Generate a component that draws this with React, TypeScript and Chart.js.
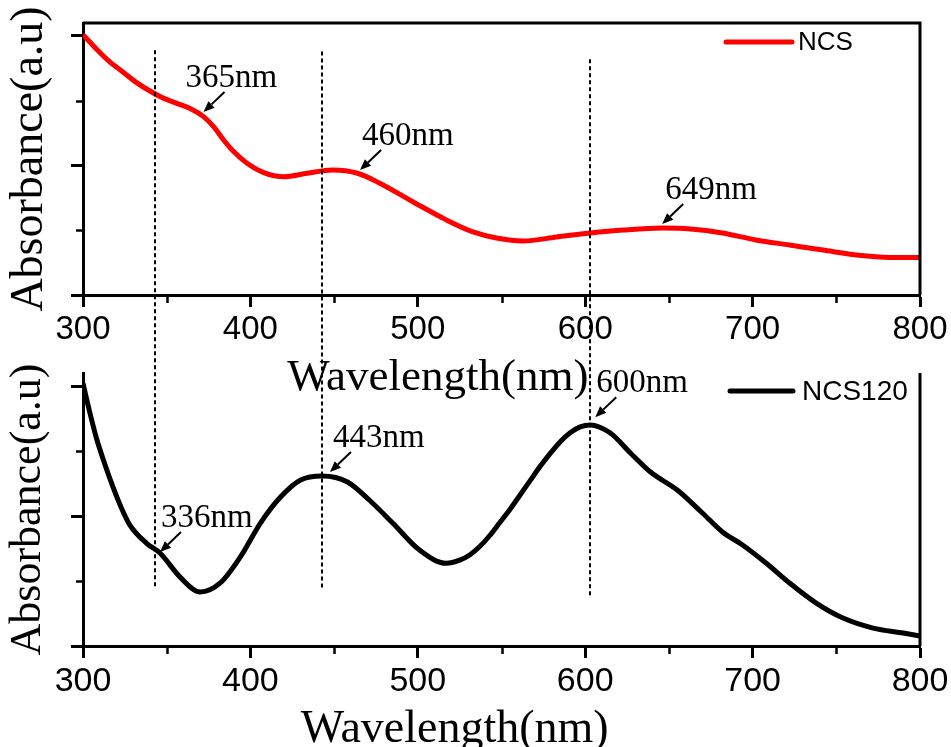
import { useEffect, useRef } from "react";
import { Chart, registerables } from "chart.js";

Chart.register(...registerables);

// UV-vis absorption spectrum of NCS
const ncsWavelength = [300, 308, 316, 324, 332, 340, 348, 356, 364, 372, 378, 384, 390, 398, 408, 420, 434, 449, 464, 477, 497, 517, 533, 547, 563, 583, 603, 623, 646, 663, 682, 702, 722, 742, 762, 782, 800];
const ncsAbsorbance = [2.01, 1.9, 1.8, 1.72, 1.64, 1.575, 1.52, 1.48, 1.44, 1.377, 1.3, 1.197, 1.107, 1.017, 0.945, 0.913, 0.94, 0.965, 0.94, 0.865, 0.72, 0.58, 0.487, 0.44, 0.417, 0.448, 0.479, 0.502, 0.517, 0.51, 0.479, 0.425, 0.386, 0.347, 0.309, 0.29, 0.29];

// UV-vis absorption spectrum of NCS120
const ncs120Wavelength = [300, 304, 308, 313, 318, 323, 328, 338, 346, 358, 370, 382, 394, 406, 418, 430, 443, 458, 471, 485, 501, 517, 525, 531, 537, 543, 549, 555, 561, 567, 573, 579, 585, 591, 597, 603, 615, 627, 639, 655, 670, 682, 694, 708, 722, 738, 754, 772, 790, 800];
const ncs120Absorbance = [2.02, 1.8, 1.6, 1.4, 1.22, 1.06, 0.93, 0.79, 0.715, 0.53, 0.415, 0.485, 0.685, 0.946, 1.146, 1.277, 1.308, 1.262, 1.123, 0.946, 0.738, 0.636, 0.66, 0.7, 0.765, 0.85, 0.95, 1.05, 1.16, 1.27, 1.38, 1.48, 1.57, 1.64, 1.685, 1.7, 1.638, 1.485, 1.338, 1.2, 1.023, 0.877, 0.777, 0.638, 0.485, 0.33, 0.215, 0.138, 0.1, 0.077];

// axis ticks
const xMajorTicks = [300, 400, 500, 600, 700, 800];
const xMinorTicks = [350, 450, 550, 650, 750];
const yMajorTicks = [0, 1, 2];
const yMinorTicks = [0.5, 1.5];

// dashed guide lines running through both panels
const guideWavelength = [343, 443, 603];
const guideTopAbsorbance = [1.89, 1.88, 1.82]; // upper end, NCS scale
const guideBottomAbsorbance = [0.45, 0.43, 0.38]; // lower end, NCS120 scale

// peak callouts: label and the curve point the arrow touches
const ncsPeakLabels = ["365nm", "460nm", "649nm"];
const ncsPeakWavelength = [372, 465.5, 646];
const ncsPeakAbsorbance = [1.413, 0.965, 0.548];
const ncs120PeakLabels = ["336nm", "443nm", "600nm"];
const ncs120PeakWavelength = [346, 447.5, 606];
const ncs120PeakAbsorbance = [0.723, 1.338, 1.76];

const SANS = "'Liberation Sans', Arial, sans-serif";
const SERIF = "'Liberation Serif', 'Times New Roman', serif";
const NCS_TEXT_DX = [-18, 2, 3];
const NCS120_TEXT_DX = [1, 3, 1];

type PanelCfg = {
  frameTop: boolean;
  legend: { x0: number; x1: number; dy: number; textX: number; size: number };
  labels: { text: string[]; wl: number[]; ab: number[]; dx: number[] };
  xTitle: { size: number; dy: number; centerFrac: number };
};

function drawArrow(ctx: CanvasRenderingContext2D, x0: number, y0: number, x1: number, y1: number) {
  const ang = Math.atan2(y1 - y0, x1 - x0);
  const head = 11;
  const half = 4.5;
  const bx = x1 - head * Math.cos(ang);
  const by = y1 - head * Math.sin(ang);
  ctx.beginPath();
  ctx.moveTo(x0, y0);
  ctx.lineTo(bx, by);
  ctx.lineWidth = 2;
  ctx.stroke();
  ctx.beginPath();
  ctx.moveTo(x1, y1);
  ctx.lineTo(bx + half * Math.sin(ang), by - half * Math.cos(ang));
  ctx.lineTo(bx - half * Math.sin(ang), by + half * Math.cos(ang));
  ctx.closePath();
  ctx.fill();
}

function panelPlugin(cfg: PanelCfg) {
  return {
    id: "panelDecor",
    afterDraw(chart: any) {
      const { ctx, chartArea: a, scales } = chart;
      const x = scales.x;
      const y = scales.y;
      ctx.save();
      ctx.strokeStyle = "#000";
      ctx.fillStyle = "#000";
      ctx.lineCap = "butt";

      // frame
      ctx.lineWidth = 3;
      ctx.beginPath();
      ctx.moveTo(a.right, a.bottom);
      ctx.lineTo(a.right, a.top);
      if (cfg.frameTop) ctx.lineTo(a.left, a.top);
      ctx.stroke();

      // minor ticks
      ctx.lineWidth = 2.5;
      ctx.beginPath();
      xMinorTicks.forEach((v) => {
        const px = Math.round(x.getPixelForValue(v)) + 0.5;
        ctx.moveTo(px, a.bottom);
        ctx.lineTo(px, a.bottom + 8);
      });
      yMinorTicks.forEach((v) => {
        const py = Math.round(y.getPixelForValue(v)) + 0.5;
        ctx.moveTo(a.left - 7, py);
        ctx.lineTo(a.left, py);
      });
      ctx.stroke();

      // x axis title
      const tt = cfg.xTitle;
      ctx.font = `${tt.size}px ${SERIF}`;
      ctx.textAlign = "center";
      ctx.textBaseline = "alphabetic";
      ctx.fillText("Wavelength(nm)", a.left + (a.right - a.left) * tt.centerFrac, a.bottom + tt.dy);

      // legend
      const ds = chart.data.datasets[0];
      const lg = cfg.legend;
      const ly = a.top + lg.dy;
      ctx.save();
      ctx.strokeStyle = ds.borderColor;
      ctx.lineWidth = 5;
      ctx.lineCap = "round";
      ctx.beginPath();
      ctx.moveTo(a.right - lg.x0, ly);
      ctx.lineTo(a.right - lg.x1, ly);
      ctx.stroke();
      ctx.restore();
      ctx.font = `${lg.size}px ${SANS}`;
      ctx.textAlign = "left";
      ctx.textBaseline = "middle";
      ctx.fillText(ds.label, a.right - lg.textX, ly + 1);

      // peak callouts
      const lb = cfg.labels;
      ctx.font = `33px ${SERIF}`;
      ctx.textAlign = "left";
      ctx.textBaseline = "alphabetic";
      lb.text.forEach((txt, i) => {
        const px = x.getPixelForValue(lb.wl[i]);
        const py = y.getPixelForValue(lb.ab[i]);
        drawArrow(ctx, px + 21, py - 20, px, py);
        ctx.fillText(txt, px + lb.dx[i], py - 25);
      });
      ctx.restore();
    },
  };
}

function guidePlugin(getTop: () => any) {
  return {
    id: "guides",
    afterDraw(chart: any) {
      const top = getTop();
      if (!top) return;
      const { ctx } = chart;
      ctx.save();
      ctx.strokeStyle = "#000";
      ctx.lineWidth = 2;
      ctx.setLineDash([4, 3]);
      guideWavelength.forEach((wl, i) => {
        const px = Math.round(chart.scales.x.getPixelForValue(wl));
        ctx.beginPath();
        ctx.moveTo(px, top.scales.y.getPixelForValue(guideTopAbsorbance[i]));
        ctx.lineTo(px, chart.scales.y.getPixelForValue(guideBottomAbsorbance[i]));
        ctx.stroke();
      });
      ctx.restore();
    },
  };
}

function axisOptions(tickSize: number, titleSize: number, xHeight: number) {
  const axisLine = { display: true, width: 3, color: "#000" };
  const tickMarks = { display: true, drawOnChartArea: false, drawTicks: true, tickLength: 12, tickWidth: 3, color: "#000", tickColor: "#000" };
  return {
    x: {
      type: "linear",
      min: 300,
      max: 800,
      afterBuildTicks: (s: any) => {
        s.ticks = xMajorTicks.map((value) => ({ value }));
      },
      afterFit: (s: any) => {
        s.height = xHeight;
        s.paddingLeft = 0;
        s.paddingRight = 0;
      },
      border: axisLine,
      grid: tickMarks,
      ticks: {
        font: { family: SANS, size: tickSize },
        color: "#000",
        padding: 3,
        maxRotation: 0,
        autoSkip: false,
      },
    },
    y: {
      min: 0,
      max: 2.1,
      afterBuildTicks: (s: any) => {
        s.ticks = yMajorTicks.map((value) => ({ value }));
      },
      afterFit: (s: any) => {
        s.width = 83;
        s.paddingTop = 0;
        s.paddingBottom = 0;
      },
      border: axisLine,
      grid: tickMarks,
      ticks: { display: false },
      title: {
        display: true,
        text: "Absorbance(a.u)",
        font: { family: SERIF, size: titleSize },
        color: "#000",
        padding: { top: 2, bottom: 0 },
      },
    },
  };
}

export default function App() {
  const topRef = useRef<HTMLCanvasElement>(null);
  const bottomRef = useRef<HTMLCanvasElement>(null);

  useEffect(() => {
    const top = new Chart(topRef.current as HTMLCanvasElement, {
      type: "line",
      data: {
        datasets: [
          {
            label: "NCS",
            data: ncsWavelength.map((w, i) => ({ x: w, y: ncsAbsorbance[i] })),
            borderColor: "#ff0000",
            borderWidth: 5,
            pointRadius: 0,
            cubicInterpolationMode: "monotone",
            fill: false,
          },
        ],
      },
      options: {
        responsive: false,
        animation: false,
        devicePixelRatio: 1,
        layout: { padding: { left: 0, top: 23, right: 31, bottom: 392 } },
        plugins: { legend: { display: false }, tooltip: { enabled: false } },
        scales: axisOptions(33, 46, 60) as any,
      },
      plugins: [
        panelPlugin({
          frameTop: true,
          legend: { x0: 194, x1: 128, dy: 19, textX: 122, size: 26 },
          labels: { text: ncsPeakLabels, wl: ncsPeakWavelength, ab: ncsPeakAbsorbance, dx: NCS_TEXT_DX },
          xTitle: { size: 45, dy: 95, centerFrac: 0.424 },
        }) as any,
      ],
    });

    const bottom = new Chart(bottomRef.current as HTMLCanvasElement, {
      type: "line",
      data: {
        datasets: [
          {
            label: "NCS120",
            data: ncs120Wavelength.map((w, i) => ({ x: w, y: ncs120Absorbance[i] })),
            borderColor: "#000000",
            borderWidth: 5,
            pointRadius: 0,
            cubicInterpolationMode: "monotone",
            fill: false,
          },
        ],
      },
      options: {
        responsive: false,
        animation: false,
        devicePixelRatio: 1,
        layout: { padding: { left: 0, top: 373, right: 31, bottom: 0 } },
        plugins: { legend: { display: false }, tooltip: { enabled: false } },
        scales: axisOptions(34, 44, 101) as any,
      },
      plugins: [
        panelPlugin({
          frameTop: false,
          legend: { x0: 190, x1: 127, dy: 18, textX: 118, size: 28 },
          labels: { text: ncs120PeakLabels, wl: ncs120PeakWavelength, ab: ncs120PeakAbsorbance, dx: NCS120_TEXT_DX },
          xTitle: { size: 46, dy: 96, centerFrac: 0.444 },
        }) as any,
        guidePlugin(() => top) as any,
      ],
    });

    return () => {
      bottom.destroy();
      top.destroy();
    };
  }, []);

  return (
    <div style={{ position: "fixed", left: 0, top: 0, width: 951, height: 747, background: "#ffffff", overflow: "hidden" }}>
      <canvas ref={topRef} width={951} height={747} style={{ position: "absolute", left: 0, top: 0 }} />
      <canvas ref={bottomRef} width={951} height={747} style={{ position: "absolute", left: 0, top: 0 }} />
    </div>
  );
}
